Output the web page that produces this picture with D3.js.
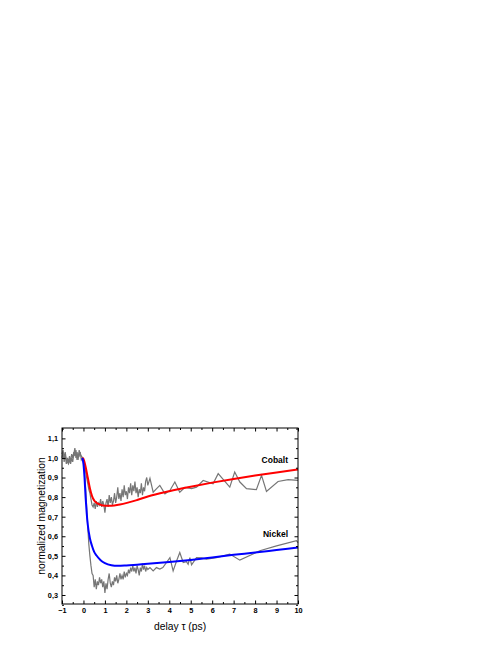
<!DOCTYPE html>
<html>
<head>
<meta charset="utf-8">
<script src="https://cdn.jsdelivr.net/npm/d3@7"></script>
<style>
  body { margin: 0; background: #fff; }
  svg { display: block; font-family: "Liberation Sans", Arial, sans-serif; }
  .tick text { font-weight: bold; font-size: 7.3px; }
  .domain { display: none; }
</style>
</head>
<body>
<svg id="chart" width="498" height="645"></svg>
<script>
// tick labels
const xTicks = [-1, 0, 1, 2, 3, 4, 5, 6, 7, 8, 9, 10];
const yTicks = [0.3, 0.4, 0.5, 0.6, 0.7, 0.8, 0.9, 1.0, 1.1];

// measured cobalt data [delay, magnetization]
const cobaltData = [
  [-1.0, 1.02], [-0.95, 1.04], [-0.9, 1.0], [-0.85, 1.03], [-0.8, 0.99], [-0.75, 0.98],
  [-0.7, 0.97], [-0.65, 0.99], [-0.6, 0.97], [-0.55, 1.0], [-0.5, 0.98], [-0.45, 1.02],
  [-0.4, 1.05], [-0.35, 1.0], [-0.3, 1.03], [-0.25, 0.99], [-0.2, 1.04], [-0.15, 1.02],
  [-0.1, 1.01], [-0.05, 1.0], [0.0, 0.99], [0.05, 0.96], [0.1, 0.93], [0.15, 0.9],
  [0.2, 0.87], [0.25, 0.84], [0.3, 0.82], [0.35, 0.79], [0.4, 0.76], [0.45, 0.75],
  [0.5, 0.77], [0.55, 0.74], [0.6, 0.78], [0.65, 0.75], [0.7, 0.77], [0.75, 0.76],
  [0.8, 0.79], [0.85, 0.75], [0.9, 0.78], [0.95, 0.76], [1.0, 0.72], [1.05, 0.77],
  [1.1, 0.79], [1.15, 0.75], [1.2, 0.81], [1.25, 0.77], [1.3, 0.8], [1.35, 0.76],
  [1.4, 0.78], [1.45, 0.82], [1.5, 0.77], [1.55, 0.8], [1.6, 0.85], [1.65, 0.79],
  [1.7, 0.82], [1.75, 0.78], [1.8, 0.84], [1.85, 0.8], [1.9, 0.86], [1.95, 0.81],
  [2.0, 0.83], [2.05, 0.79], [2.1, 0.85], [2.15, 0.82], [2.2, 0.87], [2.25, 0.81],
  [2.3, 0.86], [2.35, 0.83], [2.4, 0.88], [2.45, 0.82], [2.5, 0.85], [2.55, 0.8],
  [2.6, 0.84], [2.65, 0.82], [2.7, 0.87], [2.75, 0.81], [2.8, 0.85], [2.85, 0.83],
  [2.9, 0.88], [2.95, 0.9], [3.0, 0.86], [3.1, 0.896], [3.25, 0.825], [3.41, 0.843],
  [3.56, 0.86], [3.8, 0.817], [4.03, 0.834], [4.26, 0.877], [4.49, 0.825], [4.73, 0.85],
  [5.04, 0.843], [5.27, 0.851], [5.58, 0.885], [6.04, 0.868], [6.28, 0.92], [6.82, 0.851],
  [7.05, 0.928], [7.29, 0.877], [7.6, 0.843], [8.06, 0.838], [8.3, 0.911], [8.53, 0.829],
  [9.07, 0.88], [9.54, 0.889], [10.0, 0.885]
];

// measured nickel data [delay, magnetization]
const nickelData = [
  [-1.0, 1.0], [-0.95, 1.03], [-0.9, 0.98], [-0.85, 1.02], [-0.8, 0.97], [-0.75, 1.0],
  [-0.7, 0.98], [-0.65, 1.01], [-0.6, 0.98], [-0.55, 1.02], [-0.5, 1.0], [-0.45, 1.03],
  [-0.4, 1.01], [-0.35, 1.04], [-0.3, 0.99], [-0.25, 1.02], [-0.2, 1.01], [-0.15, 1.03],
  [-0.1, 0.99], [-0.05, 1.0], [0.0, 0.98], [0.05, 0.93], [0.1, 0.85], [0.15, 0.75],
  [0.2, 0.65], [0.25, 0.56], [0.3, 0.5], [0.35, 0.45], [0.4, 0.41], [0.45, 0.4],
  [0.5, 0.34], [0.55, 0.38], [0.6, 0.33], [0.65, 0.37], [0.7, 0.35], [0.75, 0.39],
  [0.8, 0.36], [0.85, 0.38], [0.9, 0.34], [0.95, 0.37], [1.0, 0.31], [1.05, 0.36],
  [1.1, 0.33], [1.15, 0.38], [1.2, 0.41], [1.25, 0.36], [1.3, 0.34], [1.35, 0.37],
  [1.4, 0.35], [1.45, 0.39], [1.5, 0.37], [1.55, 0.4], [1.6, 0.36], [1.65, 0.38],
  [1.7, 0.41], [1.75, 0.38], [1.8, 0.4], [1.85, 0.38], [1.9, 0.42], [1.95, 0.39],
  [2.0, 0.41], [2.05, 0.4], [2.1, 0.43], [2.15, 0.41], [2.2, 0.44], [2.25, 0.42],
  [2.3, 0.45], [2.35, 0.42], [2.4, 0.44], [2.45, 0.41], [2.5, 0.45], [2.55, 0.43],
  [2.6, 0.4], [2.65, 0.44], [2.7, 0.42], [2.75, 0.46], [2.8, 0.43], [2.85, 0.45],
  [2.9, 0.42], [2.95, 0.44], [3.0, 0.43], [3.1, 0.44], [3.25, 0.423], [3.4, 0.44],
  [3.56, 0.432], [3.7, 0.44], [3.87, 0.466], [4.03, 0.491], [4.18, 0.423], [4.34, 0.474],
  [4.49, 0.517], [4.65, 0.466], [4.8, 0.47], [4.88, 0.457], [4.96, 0.491], [5.04, 0.454],
  [5.27, 0.491], [5.5, 0.49], [5.74, 0.483], [6.2, 0.491], [6.82, 0.509], [7.29, 0.478],
  [8.22, 0.526], [9.0, 0.551], [9.93, 0.577], [10.0, 0.568]
];

// fit curves
const cobaltFit = [
  [-0.05, 1.0], [0.0, 0.995], [0.1, 0.955], [0.2, 0.9], [0.3, 0.845], [0.4, 0.805],
  [0.5, 0.783], [0.7, 0.765], [1.0, 0.756], [1.3, 0.756], [1.7, 0.762], [2.5, 0.785],
  [3.0, 0.803], [4.0, 0.83], [5.0, 0.853], [6.0, 0.874], [7.0, 0.893], [8.0, 0.91],
  [9.0, 0.926], [10.0, 0.941]
];
const nickelFit = [
  [-0.05, 1.0], [0.0, 0.97], [0.05, 0.9], [0.1, 0.8], [0.15, 0.72], [0.2, 0.66],
  [0.3, 0.59], [0.4, 0.55], [0.5, 0.52], [0.6, 0.503], [0.8, 0.478], [1.0, 0.463],
  [1.3, 0.452], [1.6, 0.449], [2.0, 0.451], [2.5, 0.455], [3.0, 0.459], [4.0, 0.468],
  [5.0, 0.479], [6.0, 0.492], [7.0, 0.505], [8.0, 0.517], [9.0, 0.53], [10.0, 0.543]
];

const mLeft = 62, mRight = 298, mTop = 428, mBottom = 604;
const svg = d3.select("#chart");

const x = d3.scaleLinear().domain([-1, 10]).range([mLeft, mRight]);
const y = d3.scaleLinear().domain([0.254, 1.153]).range([mBottom, mTop]);

const line = d3.line().x(d => x(d[0])).y(d => y(d[1]));
const fitLine = d3.line().x(d => x(d[0])).y(d => y(d[1])).curve(d3.curveMonotoneX);

// data traces
[cobaltData, nickelData].forEach(data => {
  svg.append("path")
    .attr("d", line(data))
    .attr("fill", "none")
    .attr("stroke", "#767676")
    .attr("stroke-width", 1.2);
});

// fits
svg.append("path").attr("d", fitLine(cobaltFit))
  .attr("fill", "none").attr("stroke", "#ff0000").attr("stroke-width", 2);
svg.append("path").attr("d", fitLine(nickelFit))
  .attr("fill", "none").attr("stroke", "#0000ff").attr("stroke-width", 2);

// axes, ticks inward
const xMinor = d3.range(-0.5, 10, 1);
const yMinor = d3.range(0.25, 1.16, 0.1);
const fmt = d => d.toFixed(1).replace(".", ",");

svg.append("g").attr("transform", `translate(0,${mBottom})`)
  .call(d3.axisBottom(x).tickValues(xTicks).tickSize(-3.5).tickPadding(4).tickFormat(d3.format("d")));
svg.append("g").attr("transform", `translate(0,${mBottom})`)
  .call(d3.axisBottom(x).tickValues(xMinor).tickSize(-2).tickFormat(""));
svg.append("g").attr("transform", `translate(0,${mTop})`)
  .call(d3.axisTop(x).tickValues(xTicks).tickSize(-3.5).tickFormat(""));
svg.append("g").attr("transform", `translate(0,${mTop})`)
  .call(d3.axisTop(x).tickValues(xMinor).tickSize(-2).tickFormat(""));

svg.append("g").attr("transform", `translate(${mLeft},0)`)
  .call(d3.axisLeft(y).tickValues(yTicks).tickSize(-3.5).tickPadding(4).tickFormat(fmt));
svg.append("g").attr("transform", `translate(${mLeft},0)`)
  .call(d3.axisLeft(y).tickValues(yMinor).tickSize(-2).tickFormat(""));
svg.append("g").attr("transform", `translate(${mRight},0)`)
  .call(d3.axisRight(y).tickValues(yTicks).tickSize(-3.5).tickFormat(""));
svg.append("g").attr("transform", `translate(${mRight},0)`)
  .call(d3.axisRight(y).tickValues(yMinor).tickSize(-2).tickFormat(""));

svg.selectAll(".tick text").attr("fill", "#000");

// frame
svg.append("rect")
  .attr("x", mLeft).attr("y", mTop)
  .attr("width", mRight - mLeft).attr("height", mBottom - mTop)
  .attr("fill", "none").attr("stroke", "#000").attr("stroke-width", 1);

// labels
svg.append("text")
  .attr("x", 288).attr("y", 463)
  .attr("text-anchor", "end")
  .attr("font-size", 8.5).attr("font-weight", "bold")
  .text("Cobalt");
svg.append("text")
  .attr("x", 288).attr("y", 537)
  .attr("text-anchor", "end")
  .attr("font-size", 8.5).attr("font-weight", "bold")
  .text("Nickel");

svg.append("text")
  .attr("x", (mLeft + mRight) / 2).attr("y", 630)
  .attr("text-anchor", "middle")
  .attr("font-size", 10.3)
  .text("delay τ (ps)");
svg.append("text")
  .attr("transform", `translate(45,${(mTop + mBottom) / 2}) rotate(-90)`)
  .attr("text-anchor", "middle")
  .attr("font-size", 10.3)
  .text("normalized magnetization");
</script>
</body>
</html>
